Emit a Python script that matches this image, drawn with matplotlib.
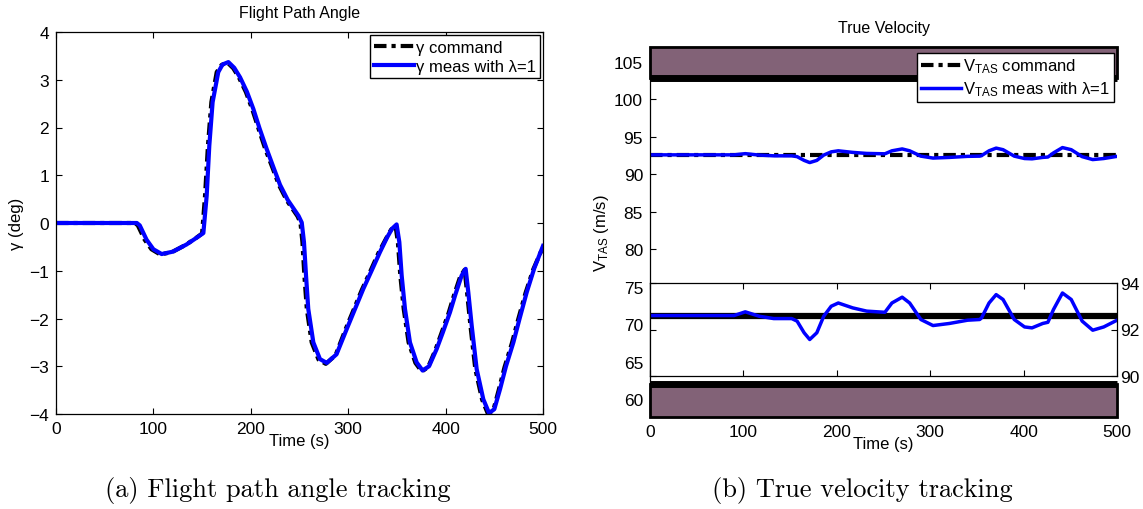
import numpy as np
import matplotlib
matplotlib.use("Agg")
import matplotlib.pyplot as plt
from matplotlib.patches import Rectangle

plt.rcParams['font.family'] = ['Liberation Sans', 'DejaVu Sans']
plt.rcParams['mathtext.fontset'] = 'custom'
plt.rcParams['mathtext.rm'] = 'Liberation Sans'
plt.rcParams['mathtext.it'] = 'Liberation Sans:italic'
plt.rcParams['lines.solid_joinstyle'] = 'round'
plt.rcParams['lines.dash_joinstyle'] = 'round'

# flight path angle, measured (blue)
t_gam_meas = [0, 83, 86, 93, 100, 108.5, 120, 134, 145, 151.3, 154.7, 157.4, 160.8, 166.6, 171,
              177, 183, 189, 196, 202.6, 209, 216.3, 223, 230, 238, 244, 249, 252.3, 254.6, 256.7,
              259, 264.2, 271, 278, 288, 298.5, 307, 315.5, 324, 332.6, 340, 345, 349.7, 352.5,
              354.9, 358.3, 363.4, 370.3, 376.4, 383, 390.8, 397, 404.5, 410, 416.5, 420.6, 423.3,
              426.8, 431.9, 438.7, 444.6, 450, 455.9, 462, 469.6, 476, 483.3, 491, 500]
gam_meas = [0, 0, -0.05, -0.35, -0.55, -0.65, -0.6, -0.45, -0.3, -0.21, 0.57, 1.62, 2.53, 3.16, 3.32,
            3.37, 3.25, 3.05, 2.75, 2.39, 1.98, 1.55, 1.18, 0.8, 0.48, 0.3, 0.15, 0.01, -0.40, -1.10,
            -1.80, -2.50, -2.85, -2.93, -2.75, -2.22, -1.8, -1.38, -1.0, -0.61, -0.3, -0.12, -0.03, -0.40,
            -1.10, -1.80, -2.50, -2.92, -3.09, -3.0, -2.64, -2.3, -1.87, -1.5, -1.10, -0.96, -1.45,
            -2.15, -3.06, -3.69, -3.98, -3.9, -3.48, -3.0, -2.50, -2.0, -1.45, -0.95, -0.48]

# flight path angle, command (black)
t_gam_cmd = [0, 81, 84, 91, 98, 107, 119, 133, 144, 150, 153, 156, 159.5, 165, 170,
             176, 182, 188, 195, 201.5, 208, 215, 222, 229, 237, 243, 248, 251, 253, 255,
             257.5, 262.5, 269.5, 277, 287, 297, 305.5, 314, 322.5, 331, 339, 344, 348.5, 351,
             353.5, 357, 362, 369, 375.5, 382, 389.5, 395.5, 403, 408.5, 415, 419.5, 422,
             425.5, 430.5, 437.5, 443.5, 449, 454.5, 460.5, 468, 474.5, 482, 490, 500]
gam_cmd = [0, 0, -0.05, -0.35, -0.55, -0.66, -0.61, -0.46, -0.31, -0.22, 0.57, 1.62, 2.53, 3.16, 3.31,
           3.36, 3.24, 3.04, 2.74, 2.38, 1.97, 1.54, 1.17, 0.79, 0.47, 0.29, 0.14, 0.0, -0.40, -1.10,
           -1.80, -2.50, -2.86, -2.95, -2.77, -2.24, -1.82, -1.40, -1.02, -0.63, -0.32, -0.14, -0.05, -0.40,
           -1.10, -1.80, -2.50, -2.93, -3.11, -3.02, -2.66, -2.32, -1.89, -1.52, -1.12, -0.98, -1.45,
           -2.15, -3.06, -3.70, -4.0, -3.92, -3.5, -3.02, -2.52, -2.02, -1.47, -0.97, -0.50]

# true airspeed
t_v_cmd = [0, 500]
v_cmd = [92.6, 92.6]
t_v_meas = [0, 90, 102, 117, 132.5, 151.7, 157.5, 165, 171, 178.6, 186, 194, 201.6, 217, 232,
            251.5, 259, 270, 278, 290, 303, 320.6, 340, 353, 355, 363, 370.6, 378, 390, 401,
            409, 420.5, 426, 432, 441.6, 451, 462.7, 474, 485.8, 500]
v_meas = [92.6, 92.6, 92.76, 92.57, 92.47, 92.47, 92.36, 91.86, 91.57, 91.86, 92.57, 93.0, 93.14, 92.93, 92.79,
          92.74, 93.14, 93.39, 93.14, 92.43, 92.17, 92.26, 92.4, 92.43, 92.5, 93.14, 93.5, 93.29, 92.43, 92.11,
          92.07, 92.26, 92.31, 92.86, 93.57, 93.29, 92.36, 91.97, 92.11, 92.4]

x_ticks = [0, 100, 200, 300, 400, 500]
gam_ticks = [-4, -3, -2, -1, 0, 1, 2, 3, 4]
v_ticks = [60, 65, 70, 75, 80, 85, 90, 95, 100, 105]
inset_ticks = [90, 92, 94]

BLUE = '#0000ff'
PURPLE = '#826277'
DASHDOT = (0, (3, 1.2, 1, 1.2))
W, H = 1143, 510

fig = plt.figure(figsize=(W / 100, H / 100), dpi=100)


def style(ax):
    ax.tick_params(direction='in', length=4, width=0.8, labelsize=12.5, top=True, right=True, pad=5)
    for s in ax.spines.values():
        s.set_linewidth(0.9)


# ---- (a) flight path angle
ax1 = fig.add_axes([56 / W, 1 - 415 / H, 487 / W, 382 / H])
ax1.plot(t_gam_cmd, gam_cmd, color='black', lw=3, ls=DASHDOT, label='γ command')
ax1.plot(t_gam_meas, gam_meas, color=BLUE, lw=3, label='γ meas with λ=1')
ax1.set_xlim(0, 500)
ax1.set_ylim(-4, 4)
ax1.set_xticks(x_ticks)
ax1.set_yticks(gam_ticks)
style(ax1)
ax1.set_xlabel('Time (s)', fontsize=12, labelpad=-2)
ax1.set_ylabel('γ (deg)', fontsize=12, labelpad=4)
ax1.set_title('Flight Path Angle', fontsize=11.5, pad=11)
ax1.legend(loc='upper right', fontsize=12, handlelength=2.4, handletextpad=0.1,
           borderaxespad=0.2, borderpad=0.25, labelspacing=0.25, fancybox=False,
           framealpha=1, edgecolor='black')

# ---- (b) true velocity
ax2 = fig.add_axes([650 / W, 1 - 418 / H, 467 / W, 370 / H])
ax2.plot(t_v_cmd, v_cmd, color='black', lw=3, ls=DASHDOT, label=r'V$_{\mathrm{TAS}}$ command')
ax2.plot(t_v_meas, v_meas, color=BLUE, lw=2.5, label=r'V$_{\mathrm{TAS}}$ meas with λ=1')
ax2.set_xlim(0, 500)
ax2.set_ylim(57.6, 107.0)
ax2.set_xticks(x_ticks)
ax2.set_yticks(v_ticks)
style(ax2)
ax2.tick_params(right=False, top=False, bottom=False)
ax2.spines['right'].set_visible(False)
ax2.set_xlabel('Time (s)', fontsize=12, labelpad=-2)
ax2.set_ylabel(r'V$_{\mathrm{TAS}}$ (m/s)', fontsize=12, labelpad=2)
ax2.set_title('True Velocity', fontsize=11.5, pad=11)

# purple blocks over top and bottom of the axes
top_box = Rectangle((0.0, 0.916), 1.0, 0.084, transform=ax2.transAxes,
                    facecolor=PURPLE, edgecolor='black', lw=2, zorder=3, clip_on=False)
bot_box = Rectangle((0.0, 0.0), 1.0, 0.089, transform=ax2.transAxes,
                    facecolor=PURPLE, edgecolor='black', lw=2, zorder=3, clip_on=False)
ax2.add_patch(top_box)
ax2.add_patch(bot_box)
ax2.plot([0, 1], [0.916, 0.916], transform=ax2.transAxes, color='black', lw=5,
         solid_capstyle='butt', zorder=4, clip_on=False)
ax2.plot([0, 1], [0.089, 0.089], transform=ax2.transAxes, color='black', lw=5,
         solid_capstyle='butt', zorder=4, clip_on=False)

leg = ax2.legend(loc='upper right', fontsize=12, handlelength=2.4, handletextpad=0.1,
                 bbox_to_anchor=(0.993, 0.985), borderaxespad=0, borderpad=0.25,
                 labelspacing=0.25, fancybox=False, framealpha=1, edgecolor='black')
leg.set_zorder(6)

# zoomed inset
ax3 = fig.add_axes([650 / W, 1 - 377 / H, 467 / W, 93 / H])
ax3.plot(t_v_cmd, v_cmd, color='black', lw=4.5)
ax3.plot(t_v_meas, v_meas, color=BLUE, lw=2.5)
ax3.set_xlim(0, 500)
ax3.set_ylim(90, 94)
ax3.set_xticks(x_ticks)
ax3.set_yticks(inset_ticks)
style(ax3)
ax3.tick_params(labelbottom=False, labelleft=False, labelright=True, pad=2)

fig.text(278 / W, 1 - 491 / H, '(a) Flight path angle tracking', family='cmr10',
         fontsize=19, ha='center', va='center')
fig.text(862 / W, 1 - 491 / H, '(b) True velocity tracking', family='cmr10',
         fontsize=19, ha='center', va='center')

fig.savefig('out.png', dpi=100)
